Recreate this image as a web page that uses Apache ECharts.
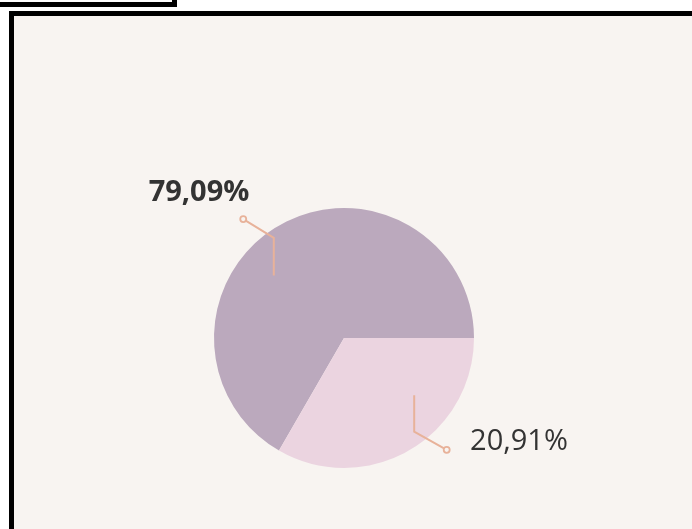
<!DOCTYPE html>
<html>
<head>
<meta charset="utf-8">
<script src="https://cdn.jsdelivr.net/npm/echarts@6/dist/echarts.min.js"></script>
<style>
  html, body { margin: 0; padding: 0; background: #ffffff; width: 692px; height: 529px; overflow: hidden; }
  #tab { position: absolute; left: -20px; top: -30px; width: 187px; height: 27px; border: 5px solid #000; box-sizing: content-box; }
  #frame { position: absolute; left: 9px; top: 11px; width: 720px; height: 560px; border: 5px solid #000; background: #f8f4f1; }
  #chart { position: absolute; left: 0; top: 0; width: 692px; height: 529px; }
</style>
</head>
<body>
<div id="tab"></div>
<div id="frame"></div>
<div id="chart"></div>
<script>
// ---- data ----
var categories = ['A', 'B'];
var values = [79.09, 20.91];
var colors = ['#bba9bd', '#ebd4e0'];

// ---- layout constants ----
var CX = 344, CY = 338, R = 130;
var LINE = '#e8b29a';
var BG = '#f8f4f1';

// label line geometry as offsets (in units of radius) from the pie centre
var lineDefs = [
  { start: [-0.54, -0.48], knee: [-0.54, -0.77], end: [-0.775, -0.915], label: [-1.115, -1.12], align: 'center' },
  { start: [0.54, 0.44], knee: [0.54, 0.72], end: [0.79, 0.86], label: [0.97, 0.80], align: 'left' }
];
function pt(o) { return [CX + o[0] * R, CY + o[1] * R]; }

function fmt(p) { return p.value.toFixed(2).replace('.', ',') + '%'; }

var baseData = categories.map(function (c, i) {
  return { name: c, value: values[i], itemStyle: { color: colors[i] } };
});
var labelData = categories.map(function (c, i) {
  return {
    name: c,
    value: values[i],
    itemStyle: { color: 'rgba(0,0,0,0)' },
    label: { fontWeight: i === 0 ? 'bold' : 'normal' }
  };
});

var common = {
  type: 'pie',
  center: [CX, CY],
  radius: R,
  startAngle: 240,
  clockwise: true,
  minAngle: 120,
  emphasis: { disabled: true },
  silent: true
};

var chart = echarts.init(document.getElementById('chart'), null, { renderer: 'canvas' });
chart.setOption({
  backgroundColor: 'transparent',
  animation: false,
  series: [
    Object.assign({}, common, {
      z: 2,
      data: baseData,
      label: { show: false },
      labelLine: { show: false }
    }),
    Object.assign({}, common, {
      z: 5,
      data: labelData,
      label: {
        show: true,
        position: 'outside',
        fontFamily: 'Open Sans',
        fontSize: 29,
        color: '#333333',
        formatter: fmt
      },
      labelLine: {
        show: true,
        lineStyle: { color: LINE, width: 2 }
      },
      labelLayout: function (params) {
        var d = lineDefs[params.dataIndex];
        var l = pt(d.label);
        return {
          x: l[0],
          y: l[1],
          align: d.align,
          verticalAlign: 'middle',
          labelLinePoints: [pt(d.start), pt(d.knee), pt(d.end)]
        };
      }
    })
  ],
  graphic: lineDefs.map(function (d) {
    var e = pt(d.end);
    return {
      type: 'circle',
      shape: { cx: e[0], cy: e[1], r: 3 },
      style: { fill: BG, stroke: LINE, lineWidth: 1.8 },
      z: 100
    };
  })
});
</script>
</body>
</html>
